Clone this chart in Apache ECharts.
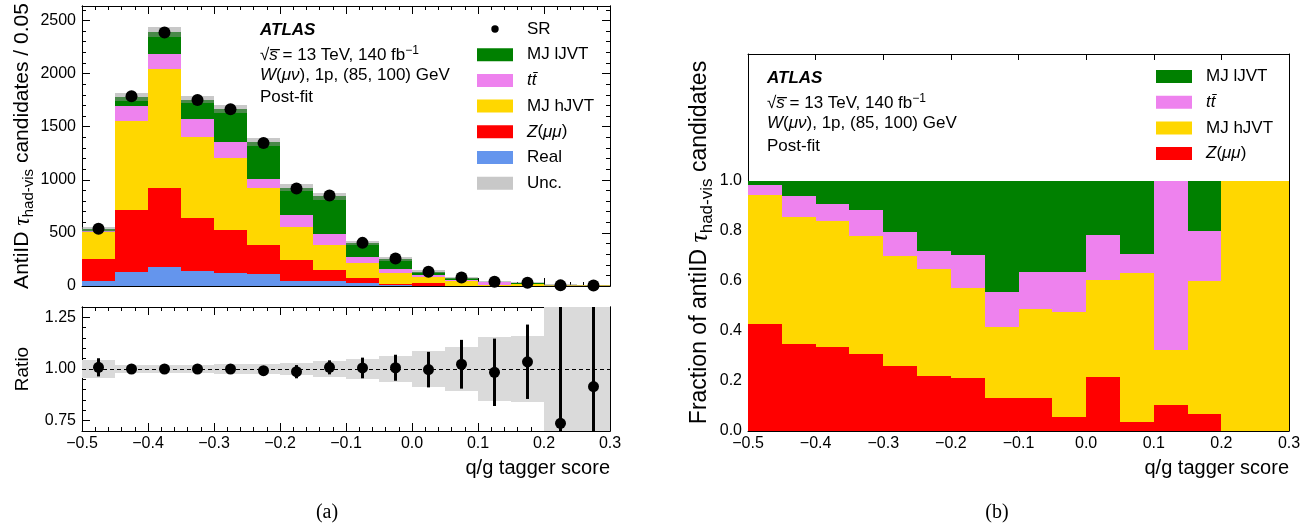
<!DOCTYPE html>
<html><head><meta charset="utf-8">
<script src="https://cdn.jsdelivr.net/npm/echarts@6/dist/echarts.min.js"></script>
<style>html,body{margin:0;padding:0;background:#fff}#c{width:1313px;height:528px}</style>
</head><body><div id="c"></div>
<script>
const FONT = '"Liberation Sans", Arial, Helvetica, sans-serif';
const SERIF = '"Liberation Serif", "Times New Roman", serif';

// ---- data ----
const binEdges = [-0.5,-0.45,-0.4,-0.35,-0.3,-0.25,-0.2,-0.15,-0.1,-0.05,0,0.05,0.1,0.15,0.2,0.25,0.3];
const srData   = [540,1786,2387,1751,1664,1347,918,852,406,258,135,79,39.5,30,5.9,5.5];
const real     = [47,135,182,144,125,116,47,47,28,5,4,1,0,0,0,0];
const zmumu    = [210,582,742,498,404,272,200,103,47,14,28,3,4,2,0,0];
const mjHJVT   = [254,834,1115,761,677,536,308,235,138,105,51,45,9,15,8,6];
const ttbar    = [11,144,141,170,151,82,112,104,60,40,24,6,27,6,0,0];
const mjLJVT   = [13,86,212,180,308,350,260,354,130,91,28,22,0,6,0,0];
const uncRel   = [0.043,0.021,0.021,0.018,0.022,0.026,0.031,0.039,0.049,0.063,0.085,0.107,0.156,0.16,1,1];
const ratio    = [1.008,1.0,1.0,1.0,1.0,0.992,0.987,1.008,1.005,1.006,0.997,1.023,0.984,1.035,0.737,0.915];
const ratioErr = [0.044,0.01,0.008,0.01,0.01,0.015,0.032,0.034,0.05,0.063,0.086,0.118,0.163,0.18,0.6,0.45];
const fracZmumu  = [0.428,0.349,0.336,0.309,0.261,0.22,0.212,0.132,0.132,0.057,0.216,0.037,0.104,0.068,0,0];
const fracMjHJVT = [0.515,0.507,0.504,0.472,0.439,0.428,0.36,0.285,0.356,0.42,0.389,0.595,0.221,0.532,1,1];
const fracTtbar  = [0.041,0.085,0.069,0.103,0.096,0.072,0.132,0.139,0.148,0.159,0.179,0.077,0.675,0.2,0,0];
const fracMjLJVT = [0.016,0.059,0.091,0.116,0.204,0.28,0.296,0.444,0.364,0.364,0.216,0.291,0,0.2,0,0];
const ratioTicks = [0.75,1.0,1.25];
const fracTicks  = [0,0.2,0.4,0.6,0.8,1.0];

const COL = {real:'#6495ed', z:'#ff0000', h:'#ffd700', tt:'#ee82ee', l:'#008000'};
const centers = binEdges.slice(0,-1).map((e,i)=>(e+binEdges[i+1])/2);

const chart = echarts.init(document.getElementById('c'), null, {renderer:'canvas'});
const lineSt = {color:'#000', width:1};

function xAxis(grid, pos, tickLen, minor, label, extra){
  return Object.assign({
    type:'value', gridIndex:grid, position:pos, min:-0.5, max:0.3, interval:0.1,
    axisLine:{show:true, onZero:false, lineStyle:lineSt},
    axisTick:{show:true, inside:true, length:tickLen, lineStyle:lineSt},
    minorTick:{show:minor, splitNumber:5, length:4, lineStyle:lineSt},
    splitLine:{show:false}, minorSplitLine:{show:false},
    axisLabel: label ? {show:true, color:'#000', fontSize:16, fontFamily:FONT, margin:5,
      formatter: v => { const s = (Math.abs(v) < 1e-9 ? 0 : v).toFixed(1); return s.replace('-', '\u2212'); }} : {show:false}
  }, extra||{});
}
function yAxis(grid, pos, min, max, interval, tickLen, label, extra){
  return Object.assign({
    type:'value', gridIndex:grid, position:pos, min, max, interval,
    axisLine:{show:true, onZero:false, lineStyle:lineSt},
    axisTick:{show:true, inside:true, length:tickLen, lineStyle:lineSt},
    splitLine:{show:false},
    axisLabel: label ? Object.assign({show:true, color:'#000', fontSize:16, fontFamily:FONT, margin:6}, label) : {show:false}
  }, extra||{});
}

function makeNameRich(fs, lh){
  return {
    r:{fontSize:fs, fontFamily:FONT, color:'#000', lineHeight:lh},
    t:{fontSize:Math.round(fs*1.15), fontFamily:SERIF, fontStyle:'italic', color:'#000', lineHeight:lh},
    s:{fontSize:Math.round(fs*0.72), fontFamily:FONT, color:'#000', lineHeight:Math.round(fs*0.78), verticalAlign:'bottom'}
  };
}

const xAxes = [
  xAxis(0,'bottom',8,true,false),
  xAxis(0,'top',8,true,false),
  xAxis(1,'bottom',8,true,true),
  xAxis(1,'top',8,true,false),
  xAxis(2,'bottom',6,false,true),
  xAxis(2,'top',6,false,false)
];
const yAxes = [
  // top panel (0-3)
  yAxis(0,'left',0,2636,500,8,{formatter: v => (Math.abs(v % 500) < 1e-6 ? String(v) : '')},
    {name:'{r|AntiID }{t|τ}{s|had-vis}{r| candidates / 0.05}', nameLocation:'middle', nameRotate:90, nameGap:45,
     nameTextStyle:{color:'#000', fontSize:21, fontFamily:FONT, rich:makeNameRich(21,28)}}),
  yAxis(0,'left',0,2636,100,4,null),
  yAxis(0,'right',0,2636,500,8,null),
  yAxis(0,'right',0,2636,100,4,null),
  // ratio panel (4-7)
  yAxis(1,'left',0.7,1.3,0.05,8,{customValues:ratioTicks, formatter: v => v.toFixed(2)},
    {axisTick:{show:true, inside:true, length:8, lineStyle:lineSt, customValues:ratioTicks},
     name:'Ratio', nameLocation:'middle', nameRotate:90, nameGap:45,
     nameTextStyle:{color:'#000', fontSize:19, fontFamily:FONT, lineHeight:28}}),
  yAxis(1,'left',0.7,1.3,0.05,4,null),
  yAxis(1,'right',0.7,1.3,0.05,8,null,{axisTick:{show:true, inside:true, length:8, lineStyle:lineSt, customValues:ratioTicks}}),
  yAxis(1,'right',0.7,1.3,0.05,4,null),
  // fraction panel (8-9)
  yAxis(2,'left',0,1.508,0.2,6,{customValues:fracTicks, formatter: v => (v > 1.0001 ? '' : v.toFixed(1))},
    {axisTick:{show:true, inside:true, length:6, lineStyle:lineSt, customValues:fracTicks},
     name:'{r|Fraction of antiID }{t|τ}{s|had-vis}{r| candidates}', nameLocation:'middle', nameRotate:90, nameGap:23,
     nameTextStyle:{color:'#000', fontSize:23, fontFamily:FONT, rich:makeNameRich(23,32)}}),
  yAxis(2,'right',0,1.508,0.2,6,null,{axisTick:{show:true, inside:true, length:6, lineStyle:lineSt, customValues:fracTicks}})
];

function rectShape(api){
  const p0 = api.coord([api.value(0), api.value(2)]);
  const p1 = api.coord([api.value(1), api.value(3)]);
  const x0 = Math.round(p0[0]), x1 = Math.round(p1[0]);
  const yb = Math.round(p0[1]), yt = Math.round(p1[1]);
  return {x:x0, y:yt, width:x1-x0, height:yb-yt};
}
function stackSeries(name, color, values, bottoms, xi, yi){
  return {
    type:'custom', name, xAxisIndex:xi, yAxisIndex:yi, itemStyle:{color},
    data: values.map((v,i)=>[binEdges[i], binEdges[i+1], bottoms[i], bottoms[i]+v]),
    encode:{x:[0,1], y:[2,3]}, z:2,
    renderItem:(params, api)=>{
      const s = rectShape(api);
      if (s.height <= 0) return null;
      return {type:'rect', shape:s, style:{fill:color}};
    }
  };
}

const series = [];
// top stacked histogram
let cum = real.map(()=>0);
[['Real',COL.real,real],['Zmumu',COL.z,zmumu],['MJ hJVT',COL.h,mjHJVT],['ttbar',COL.tt,ttbar],['MJ lJVT',COL.l,mjLJVT]].forEach(([n,c,v])=>{
  series.push(stackSeries(n,c,v,cum.slice(),0,0));
  cum = cum.map((b,i)=>b+v[i]);
});
const total = cum;
series.push({
  type:'custom', name:'Unc.', xAxisIndex:0, yAxisIndex:0, itemStyle:{color:'rgba(145,145,145,0.5)'}, z:3,
  data: total.map((t,i)=>[binEdges[i], binEdges[i+1], t*(1-uncRel[i]), t*(1+uncRel[i])]),
  encode:{x:[0,1], y:[2,3]},
  renderItem:(params, api)=>{
    const s = rectShape(api);
    if (s.height <= 0) return null;
    return {type:'rect', shape:s, style:{fill:'rgba(145,145,145,0.5)'}};
  }
});
series.push({
  type:'scatter', name:'SR', xAxisIndex:0, yAxisIndex:0, symbol:'circle', symbolSize:12,
  itemStyle:{color:'#000', opacity:1}, z:5, data: srData.map((v,i)=>[centers[i], v])
});

// ratio panel
series.push({
  type:'custom', name:'ratioBand', xAxisIndex:2, yAxisIndex:4, clip:true, z:1,
  data: uncRel.map((u,i)=>[binEdges[i], binEdges[i+1], 1-u, 1+u]),
  encode:{x:[0,1], y:[2,3]},
  renderItem:(params, api)=>({type:'rect', shape:rectShape(api), style:{fill:'#dadada'}}),
  markLine:{silent:true, symbol:['none','none'], label:{show:false},
    lineStyle:{color:'#000', width:1, type:[4,3]}, data:[{yAxis:1}], z:2}
});
series.push({
  type:'custom', name:'ratioErr', xAxisIndex:2, yAxisIndex:4, clip:true, z:3,
  data: ratio.map((r,i)=>[centers[i], r, ratioErr[i]]),
  encode:{x:0, y:1},
  renderItem:(params, api)=>{
    const x = api.value(0), y = api.value(1), e = api.value(2);
    const a = api.coord([x, y-e]), b = api.coord([x, y+e]);
    return {type:'line', shape:{x1:a[0], y1:a[1], x2:b[0], y2:b[1]}, style:{stroke:'#000', lineWidth:3}};
  }
});
series.push({
  type:'scatter', name:'ratioPts', xAxisIndex:2, yAxisIndex:4, symbol:'circle', symbolSize:11,
  itemStyle:{color:'#000', opacity:1}, z:4, data: ratio.map((r,i)=>[centers[i], r])
});

// fraction panel
let fcum = fracZmumu.map(()=>0);
[['Zmumu',COL.z,fracZmumu],['MJ hJVT',COL.h,fracMjHJVT],['ttbar',COL.tt,fracTtbar],['MJ lJVT',COL.l,fracMjLJVT]].forEach(([n,c,v])=>{
  series.push(stackSeries(n,c,v,fcum.slice(),4,8));
  fcum = fcum.map((b,i)=>b+v[i]);
});

const srIcon = 'image://data:image/svg+xml;charset=utf-8,' + encodeURIComponent(
  '<svg xmlns="http://www.w3.org/2000/svg" width="36" height="13"><circle cx="18" cy="6.5" r="3.7" fill="#000"/></svg>');

const legRich = {
  n:{fontSize:17, fontFamily:FONT, color:'#000'},
  i:{fontSize:17, fontFamily:FONT, fontStyle:'italic', color:'#000'}
};
const legFmt = name => ({'ttbar':'{i|tt\u0304}', 'Zmumu':'{i|Z}{n|(}{i|μμ}{n|)}'}[name] || ('{n|' + name + '}'));
const legendBase = {orient:'vertical', itemWidth:36, itemHeight:13, itemGap:8.7, padding:0, selectedMode:false,
  textStyle:{fontSize:17, fontFamily:FONT, color:'#000', padding:[0,0,0,9], rich:legRich}, formatter:legFmt};

const legends = [
  Object.assign({}, legendBase, {left:477, top:20.5, data:[
    {name:'SR', icon:srIcon}, {name:'MJ lJVT', icon:'rect'}, {name:'ttbar', icon:'rect'}, {name:'MJ hJVT', icon:'rect'},
    {name:'Zmumu', icon:'rect'}, {name:'Real', icon:'rect'}, {name:'Unc.', icon:'rect'}]}),
  Object.assign({}, legendBase, {left:1156, top:68, data:[
    {name:'MJ lJVT', icon:'rect'}, {name:'ttbar', icon:'rect'}, {name:'MJ hJVT', icon:'rect'}, {name:'Zmumu', icon:'rect'}]})
];

const txtRich = {
  n:{fontSize:17, fontFamily:FONT, fill:'#000', lineHeight:22},
  i:{fontSize:17, fontFamily:FONT, fontStyle:'italic', fill:'#000', lineHeight:22},
  b:{fontSize:17, fontFamily:FONT, fontStyle:'italic', fontWeight:'bold', fill:'#000', lineHeight:22},
  sup:{fontSize:12, fontFamily:FONT, fill:'#000', lineHeight:12, verticalAlign:'top'}
};
const infoLines = ['{b|ATLAS}', '{n|\u221A}{i|s\u0305}{n| = 13 TeV, 140 fb}{sup|\u22121}', '{i|W}{n|(}{i|μν}{n|), 1p, (85, 100) GeV}', '{n|Post-fit}'];
function txt(x, y, text, extra){
  return {type:'text', x, y, silent:true, style:Object.assign({text, rich:txtRich, fill:'#000', fontSize:17, fontFamily:FONT, verticalAlign:'middle', align:'left'}, extra||{})};
}
const graphics = [];
[30, 55.5, 75, 97.5].forEach((y,k)=>graphics.push(txt(260, y, infoLines[k])));
[78.5, 103.5, 123.5, 146].forEach((y,k)=>graphics.push(txt(767, y, infoLines[k])));
graphics.push(txt(610, 468, 'q/g tagger score', {align:'right', fontSize:20, rich:null}));
graphics.push(txt(1289, 468, 'q/g tagger score', {align:'right', fontSize:20, rich:null}));
graphics.push(txt(327, 513, '(a)', {align:'center', fontSize:20, fontFamily:SERIF, rich:null}));
graphics.push(txt(997, 513, '(b)', {align:'center', fontSize:20, fontFamily:SERIF, rich:null}));

chart.setOption({
  animation:false,
  backgroundColor:'#fff',
  grid:[
    {left:82, top:6, width:528, height:280, containLabel:false},
    {left:82, top:307, width:528, height:124, containLabel:false},
    {left:748, top:54, width:541, height:377, containLabel:false}
  ],
  xAxis:xAxes, yAxis:yAxes, legend:legends, series, graphic:graphics
});
</script></body></html>
